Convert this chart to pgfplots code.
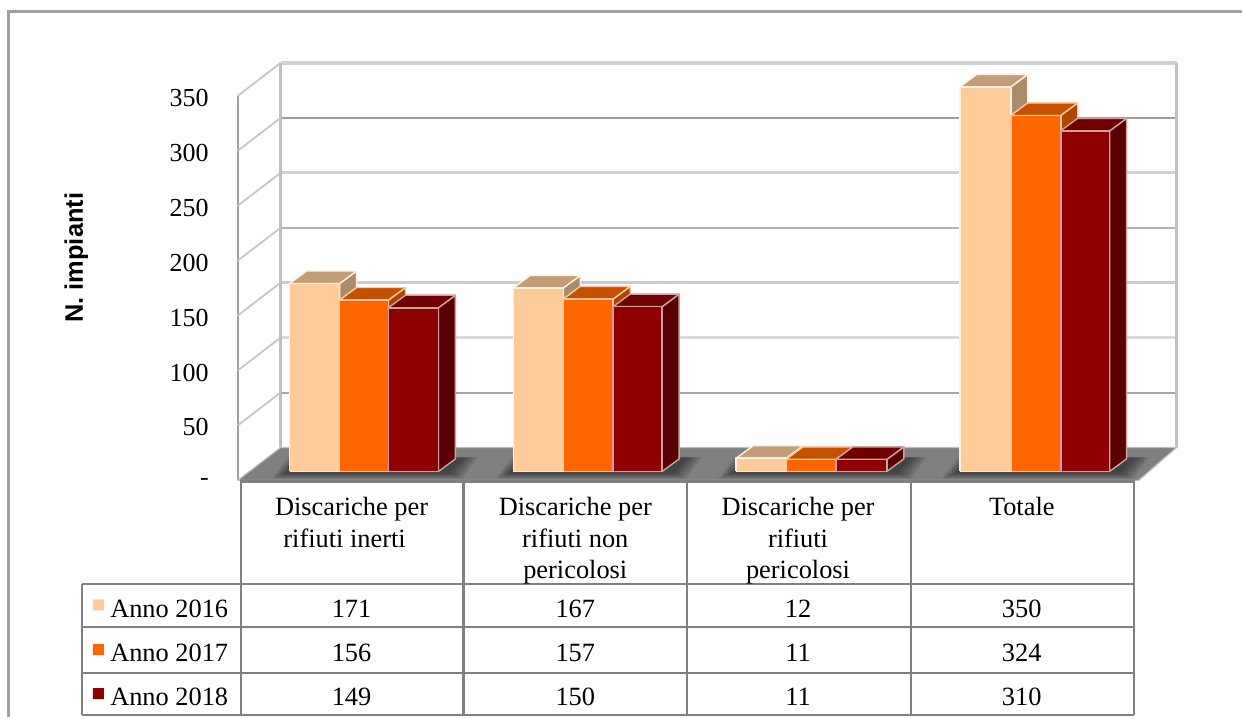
\documentclass[border=0pt]{standalone}
\usepackage{fontspec}
\setmainfont{Liberation Serif}
\newfontfamily\labelfont{Liberation Sans}
\usepackage{pgfplots}
\pgfplotsset{compat=1.18}

\definecolor{fA}{HTML}{FFCC99}\definecolor{tA}{HTML}{C49D76}\definecolor{sA}{HTML}{AD8A68}\definecolor{eA}{HTML}{FFF0E0}
\definecolor{fB}{HTML}{FF6600}\definecolor{tB}{HTML}{C45000}\definecolor{sB}{HTML}{AD4600}\definecolor{eB}{HTML}{FFC8A0}
\definecolor{fC}{HTML}{8F0000}\definecolor{tC}{HTML}{6E0000}\definecolor{sC}{HTML}{5A0000}\definecolor{eC}{HTML}{D0A0A0}
\definecolor{tabline}{HTML}{808080}
\definecolor{framec}{HTML}{A0A0A0}

% one 3D bar: left x, right x, value, series letter
\newcommand{\cube}[4]{%
  \pgfmathsetmacro\bb{8.18}%
  \pgfmathsetmacro\tt{8.18+#3}%
  \pgfmathsetmacro\xr{#2+17}\pgfmathsetmacro\xl{#1+17}%
  \pgfmathsetmacro\bk{\tt+11.4}\pgfmathsetmacro\bbk{\bb+11.4}%
  \edef\doit{%
    \noexpand\addplot[fill=s#4,draw=e#4,line width=.7pt,line join=round] coordinates {(#2,\bb)(\xr,\bbk)(\xr,\bk)(#2,\tt)(#2,\bb)};
    \noexpand\addplot[fill=t#4,draw=e#4,line width=.7pt,line join=round] coordinates {(#1,\tt)(\xl,\bk)(\xr,\bk)(#2,\tt)(#1,\tt)};
    \noexpand\addplot[fill=f#4,draw=e#4,line width=.8pt,line join=round] coordinates {(#1,\bb)(#2,\bb)(#2,\tt)(#1,\tt)(#1,\bb)};
  }\doit}

% soft shadow on the floor under one group of bars
\newcommand{\shadow}[2]{%
  \foreach \g in {0,1,...,7}{%
    \pgfmathsetmacro\aa{#1-4-2*\g}\pgfmathsetmacro\ab{#2+10+2*\g}%
    \pgfmathsetmacro\ac{#1+12-2*\g}\pgfmathsetmacro\ad{#2+26+2*\g}%
    \pgfmathsetmacro\lo{6.5-0.7*\g}\pgfmathsetmacro\hi{21}%
    \edef\doit{\noexpand\addplot[fill=black,fill opacity=.07,draw=none] coordinates {(\aa,\lo)(\ab,\lo)(\ad,\hi)(\ac,\hi)(\aa,\lo)};}\doit
  }}

\begin{document}
\begin{tikzpicture}
\begin{axis}[
  scale only axis, width=470pt, height=209pt,
  xmin=238, xmax=1178, ymin=0, ymax=380,
  clip=false,
  axis lines*=left,
  x axis line style={draw=none},
  y axis line style={draw=none},
  xtick=\empty,
  ytick={0,50,100,150,200,250,300,350},
  yticklabels={-,50,100,150,200,250,300,350},
  ytick style={draw=none},
  /pgf/number format/assume math mode=true,
  yticklabel style={font=\fontsize{13}{15}\selectfont,xshift=-11pt,yshift=-1pt},
  ylabel={N. impianti},
  ylabel style={at={(axis description cs:-0.1718,0.5335)},anchor=center,
    font=\labelfont\bfseries\fontsize{12.7}{15}\selectfont},
  declare function={py(\p)=(481-\p)/1.1;},
  every axis plot/.append style={no markers,forget plot},
]
% page size, in reference pixels
\path (axis cs:0,{py(718)}) rectangle (axis cs:1243,{py(0)});

% outer frame
\draw[framec,line width=1.5pt] (axis cs:9,{py(718)}) -- (axis cs:9,{py(12)}) -- (axis cs:1243,{py(12)});

% side wall and back wall
\addplot[draw=framec,line width=1pt] coordinates {(238,0)(238,350)};
\addplot[draw=gray!45,line width=.9pt] coordinates {(238,350)(281,380)};
\addplot[draw=gray!45,line width=.9pt] coordinates {(238,300)(281,330)};
\addplot[draw=gray!45,line width=.9pt] coordinates {(238,250)(281,280)};
\addplot[draw=gray!45,line width=.9pt] coordinates {(238,200)(281,230)};
\addplot[draw=gray!45,line width=.9pt] coordinates {(238,150)(281,180)};
\addplot[draw=gray!45,line width=.9pt] coordinates {(238,100)(281,130)};
\addplot[draw=gray!45,line width=.9pt] coordinates {(238,50)(281,80)};
\addplot[draw=black!18,line width=1.6pt] coordinates {(281,380)(1178,380)};
\addplot[draw=black!38,line width=1pt] coordinates {(281,330)(1178,330)};
\addplot[draw=black!18,line width=1.6pt] coordinates {(281,280)(1178,280)};
\addplot[draw=black!30,line width=1.2pt] coordinates {(281,230)(1178,230)};
\addplot[draw=black!20,line width=1.4pt] coordinates {(281,180)(1178,180)};
\addplot[draw=black!15,line width=1.6pt] coordinates {(281,130)(1178,130)};
\addplot[draw=black!35,line width=1pt] coordinates {(281,80)(1178,80)};
\addplot[draw=black!25,line width=1.4pt] coordinates {(281,30)(281,380)};
\addplot[draw=black!25,line width=1.4pt] coordinates {(1178,30)(1178,380)};

% floor
\addplot[fill=black!50,draw=black!25,line width=.6pt] coordinates {(238,0)(281,30)(1178,30)(1140,0)(238,0)};
\shadow{290}{439}
\shadow{514}{663}
\shadow{737}{888}
\shadow{961}{1111}

% bars, read from the data table
\cube{290}{340}{171}{A}\cube{340}{389}{156}{B}\cube{389}{439}{149}{C}
\cube{514}{564}{167}{A}\cube{564}{614}{157}{B}\cube{614}{663}{150}{C}
\cube{737}{787}{12}{A}\cube{787}{837}{11}{B}\cube{837}{888}{11}{C}
\cube{961}{1012}{350}{A}\cube{1012}{1062}{324}{B}\cube{1062}{1111}{310}{C}

% data table
\begin{scope}[tabline,line width=1.1pt]
\draw (axis cs:240,{py(482)}) -- (axis cs:1136,{py(482)});
\draw (axis cs:82,{py(585)}) -- (axis cs:1136,{py(585)});
\draw (axis cs:82,{py(628)}) -- (axis cs:1135,{py(628)});
\draw (axis cs:82,{py(674)}) -- (axis cs:1135,{py(674)});
\draw (axis cs:82,{py(716)}) -- (axis cs:1135,{py(716)});
\draw (axis cs:82,{py(585)}) -- (axis cs:82,{py(716)});
\draw (axis cs:241,{py(482)}) -- (axis cs:241,{py(716)});
\draw (axis cs:464,{py(482)}) -- (axis cs:464,{py(716)});
\draw (axis cs:688,{py(482)}) -- (axis cs:688,{py(716)});
\draw (axis cs:912,{py(482)}) -- (axis cs:912,{py(716)});
\draw (axis cs:1135,{py(482)}) -- (axis cs:1135,{py(716)});
\end{scope}

\begin{scope}[every node/.style={anchor=base,inner sep=0pt,font=\fontsize{13.2}{15}\selectfont}]
\node at (axis cs:352,{py(516)}) {Discariche per};
\node at (axis cs:345,{py(548)}) {rifiuti inerti};
\node at (axis cs:576,{py(516)}) {Discariche per};
\node at (axis cs:576,{py(548)}) {rifiuti non};
\node at (axis cs:576,{py(579)}) {pericolosi};
\node at (axis cs:799,{py(516)}) {Discariche per};
\node at (axis cs:799,{py(548)}) {rifiuti};
\node at (axis cs:799,{py(579)}) {pericolosi};
\node at (axis cs:1023,{py(516)}) {Totale};

\node[anchor=base west] at (axis cs:110,{py(618)}) {Anno 2016};
\node[anchor=base west] at (axis cs:110,{py(662)}) {Anno 2017};
\node[anchor=base west] at (axis cs:110,{py(706)}) {Anno 2018};

\node at (axis cs:352,{py(618)}) {171};
\node at (axis cs:576,{py(618)}) {167};
\node at (axis cs:799,{py(618)}) {12};
\node at (axis cs:1023,{py(618)}) {350};
\node at (axis cs:352,{py(662)}) {156};
\node at (axis cs:576,{py(662)}) {157};
\node at (axis cs:799,{py(662)}) {11};
\node at (axis cs:1023,{py(662)}) {324};
\node at (axis cs:352,{py(706)}) {149};
\node at (axis cs:576,{py(706)}) {150};
\node at (axis cs:799,{py(706)}) {11};
\node at (axis cs:1023,{py(706)}) {310};
\end{scope}

% legend keys
\addplot[fill=fA,draw=none] coordinates {(93,-108.2)(104,-108.2)(104,-118.2)(93,-118.2)(93,-108.2)};
\addplot[fill=fB,draw=none] coordinates {(93,-149.1)(104,-149.1)(104,-159.1)(93,-159.1)(93,-149.1)};
\addplot[fill=fC,draw=none] coordinates {(93,-189.1)(104,-189.1)(104,-199.1)(93,-199.1)(93,-189.1)};
\end{axis}
\end{tikzpicture}
\end{document}
